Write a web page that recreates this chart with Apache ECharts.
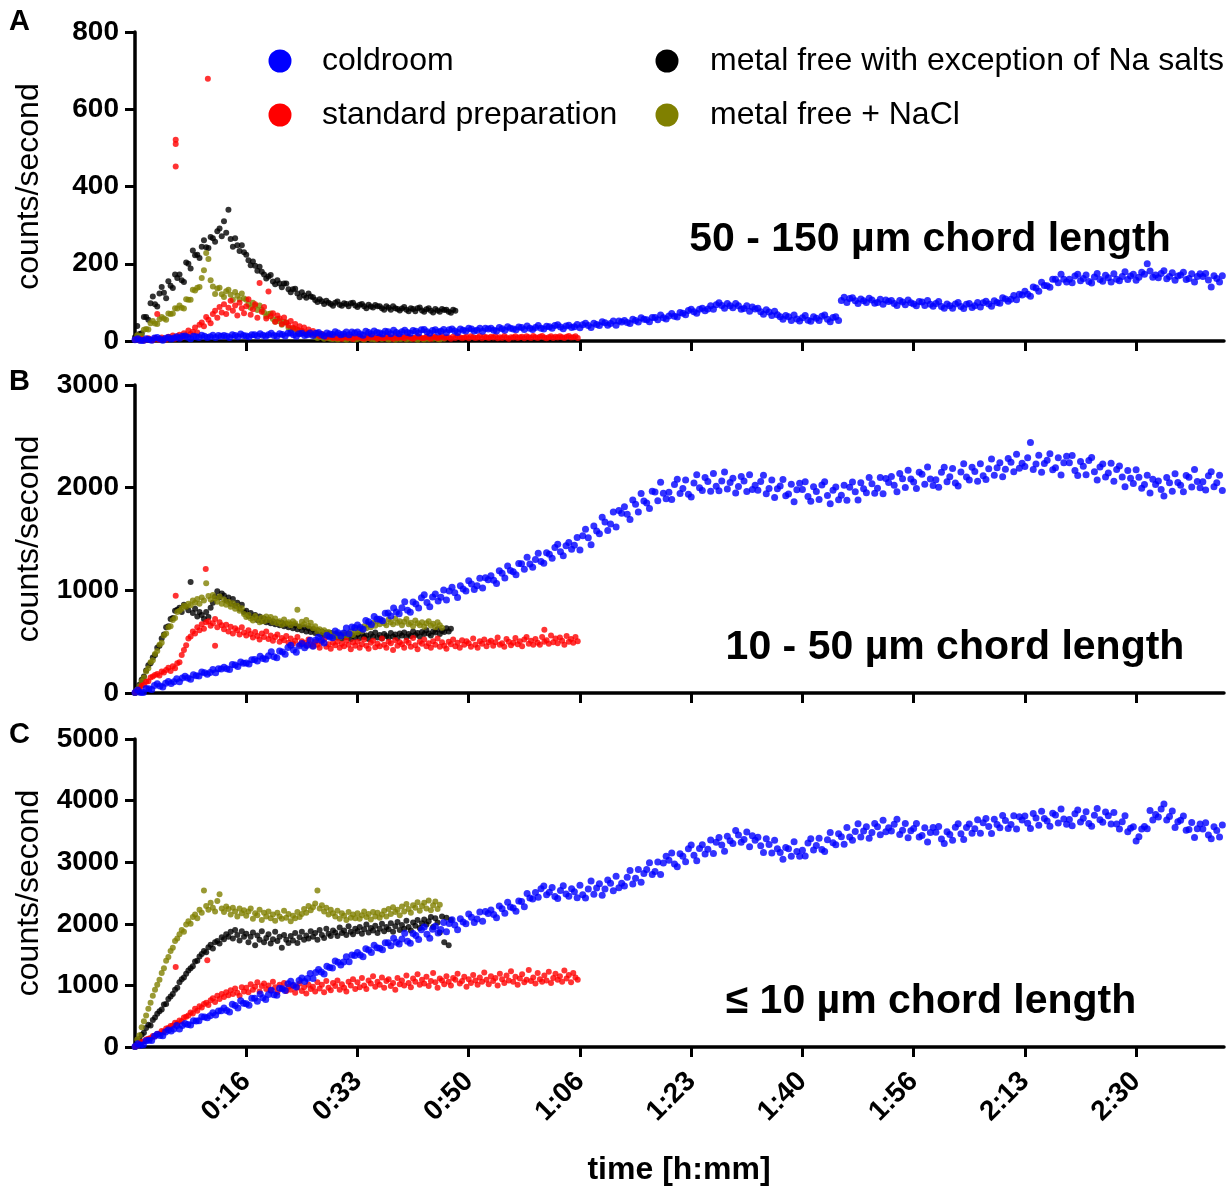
<!DOCTYPE html>
<html>
<head>
<meta charset="utf-8">
<script src="https://cdn.jsdelivr.net/npm/echarts@6/dist/echarts.min.js"></script>
<style>
html,body{margin:0;padding:0;background:#ffffff;}
#chart{width:1229px;height:1186px;}
</style>
</head>
<body>
<div id="chart"></div>
<script>
// ---------------- DATA ----------------
// sampling interval of each recording, seconds
const STEP_COLDROOM = 25;
const STEP_OTHER = 20;

// x-axis ticks (seconds) and their labels (h:mm)
const X_TICKS = [1000, 2000, 3000, 4000, 5000, 6000, 7000, 8000, 9000];
const X_TICK_LABELS = ['0:16', '0:33', '0:50', '1:06', '1:23', '1:40', '1:56', '2:13', '2:30'];

// ---- Panel A : 50 - 150 µm chord length ----
const COLDROOM_A = [
  3,6,1,1,6,4,2,8,9,5,2,7,9,5,8,11,
  7,12,13,10,6,12,11,9,15,12,9,11,15,9,14,12,
  14,12,9,16,14,11,18,14,13,11,16,16,13,19,15,12,
  16,20,14,12,19,17,13,20,21,16,12,19,20,14,16,21,
  14,20,22,17,13,21,18,17,24,21,16,18,23,16,23,21,
  23,18,15,25,22,18,26,22,21,18,25,24,19,28,22,19,
  24,28,22,20,27,25,21,29,30,24,20,27,29,23,25,30,
  22,29,31,26,22,31,28,26,33,31,26,28,33,25,33,31,
  33,28,26,35,32,28,37,33,31,29,36,35,30,39,33,30,
  35,40,33,31,38,37,33,40,42,36,32,39,41,35,37,43,
  34,42,46,40,35,46,43,40,50,47,41,45,52,41,52,49,
  53,48,45,56,53,49,60,56,55,50,61,61,55,67,60,57,
  65,71,64,62,74,72,68,79,82,76,72,82,85,78,83,91,
  82,94,99,92,85,97,91,86,97,91,82,84,91,77,88,83,
  85,76,69,81,75,66,77,68,63,56,66,63,53,67,57,52,
  60,66,54,51,63,59,53,64,67,56,50,61,63,53,105,113,
  100,110,112,104,97,109,104,100,111,106,98,100,108,95,106,102,
  105,97,92,105,101,94,106,99,96,91,102,101,92,105,95,90,
  97,102,89,85,96,91,85,96,100,89,84,95,97,87,91,100,
  88,99,103,96,90,104,100,98,112,109,103,108,118,107,121,119,
  129,121,116,140,137,129,152,144,143,139,160,160,151,173,160,153,
  160,151,168,173,156,162,171,154,150,166,175,159,155,170,164,153,
  174,160,156,167,179,159,168,173,157,165,178,173,200,181,165,171,
  164,175,182,161,167,177,157,168,171,178,159,162,174,153,167,174,
  167,175,158,140,169,162,153,169
];
const STANDARD_A = [
  3,6,2,5,1,4,7,3,2,8,
  5,3,9,6,4,11,8,14,6,12,
  16,9,20,14,27,18,24,35,22,42,
  48,38,62,55,46,70,78,60,88,74,
  95,70,86,104,78,92,66,99,85,72,
  90,108,68,82,95,60,150,76,88,58,
  128,64,72,50,66,58,44,61,48,40,
  52,34,44,30,38,26,35,22,30,19,
  26,16,21,12,18,14,9,15,11,8,
  12,7,10,6,13,9,8,11,5,10,
  9,12,7,6,11,8,13,9,10,6,
  11,8,7,12,9,10,6,13,8,9,
  10,7,12,11,8,6,9,12,10,7,
  8,11,9,6,12,10,7,9,13,8,
  10,9,6,11,8,12,10,7,9,11,
  7,12,10,8,9,13,7,11,10,8,
  11,9,12,7,10,8,13,9,6,10,
  9,12,8,10,11,7,12,10,8,13,
  10,8,11,13,9,7,10,12,8,11,
  9,12,10,8,11,13,9,10,12,8
];
const STANDARD_A_OUTLIERS = [[366, 521], [366, 510], [366, 452], [655, 679], [200, 70]];
const METALFREE_NA_A = [
  10,39,18,20,62,62,55,98,115,95,
  89,123,140,125,111,155,143,137,172,163,
  172,157,153,203,200,188,234,222,223,215,
  244,261,243,241,269,266,257,284,291,271,
  310,280,340,264,244,266,248,233,248,230,
  223,209,196,206,195,182,192,179,172,162,
  167,171,154,147,157,149,139,149,149,134,
  126,134,135,123,113,126,118,112,123,115,
  113,106,101,108,103,96,104,99,96,91,
  99,102,94,91,98,96,90,98,99,92,
  88,94,96,90,85,94,89,87,93,90,
  90,85,81,90,86,81,90,85,83,79,
  84,88,81,77,85,83,77,85,87,79,
  76,82,85,78,74,83,79,76,83,80,
  81,76,73,81,78
];
const METALFREE_NACL_A = [
  4,15,11,14,29,31,30,46,52,45,
  44,56,62,58,55,71,70,71,85,84,
  92,86,84,108,107,107,133,131,138,140,
  163,183,228,212,157,141,122,136,138,121,
  114,129,133,120,107,127,117,108,123,110,
  107,95,86,99,91,80,92,81,74,64,
  70,71,57,50,57,51,42,49,48,34,
  29,32,32,25,19,26,21,17,22,17,
  16,11,8,12,10,6,11,7,6,5,
  8,4,6,9,5,3,7,6,9,4,
  5,8,6,3,7,9,5,6,4,8,
  7,5,9,6,4,6,8,3,7,5,
  6,9,4,7,5,8,6,3,7,6,
  4,7,5,8,6,9,5,4,7,6
];

// ---- Panel B : 10 - 50 µm chord length ----
const COLDROOM_B = [
  5,30,6,4,44,42,33,74,89,67,58,96,111,92,110,140,
  110,145,162,147,134,178,169,166,205,198,182,199,229,198,237,234,
  250,237,230,278,272,259,303,290,291,283,325,327,312,357,337,328,
  363,402,353,343,409,400,377,444,465,420,397,459,481,440,466,515,
  456,516,543,513,486,563,545,537,604,588,556,584,634,576,643,635,
  662,637,622,705,693,668,746,721,719,703,777,779,750,828,790,773,
  830,888,806,786,886,867,827,927,956,881,841,934,964,895,932,1004,
  907,993,1031,977,931,1045,1012,994,1094,1062,1008,1045,1118,1022,1123,1104,
  1143,1098,1067,1190,1166,1121,1237,1192,1182,1151,1261,1258,1206,1322,1256,1225,
  1300,1361,1281,1265,1367,1351,1313,1416,1448,1376,1338,1434,1466,1401,1440,1515,
  1393,1532,1594,1513,1443,1626,1578,1552,1713,1665,1584,1646,1763,1616,1777,1751,
  1815,1741,1689,1879,1838,1764,1943,1869,1850,1798,1966,1958,1873,2052,1945,1893,
  1956,1884,2032,2081,1943,1992,2074,1936,1908,2045,2127,2000,1972,2098,2059,1965,
  2137,2014,1969,2066,2152,1986,2050,2092,1948,2012,2109,2064,1963,2126,1982,2024,
  1975,2059,2120,1940,1991,2074,1905,1989,2017,2079,1921,1938,2033,1864,1980,2042,
  1982,2057,1913,1867,2008,1963,1884,2025,2057,1923,1844,1975,2006,1883,1926,2023,
  1878,2005,2054,1961,1879,2049,1989,1951,2099,2039,1946,1995,2100,1941,2089,2051,
  2108,2023,1960,2139,2087,2002,2170,2085,2055,1992,2149,2130,2034,2202,2084,2021,
  2078,2004,2151,2198,2058,2106,2186,2046,2017,2152,2232,2104,2074,2198,2158,2062,
  2232,2117,2080,2185,2279,2121,2193,2243,2107,2179,2284,2247,2154,2325,2189,2239,
  2205,2291,2440,2177,2230,2316,2149,2235,2266,2330,2174,2194,2291,2124,2243,2307,
  2242,2314,2167,2118,2256,2208,2126,2264,2293,2156,2074,2202,2230,2104,2144,2238,
  2063,2176,2212,2105,2009,2166,2092,2040,2175,2101,1994,2030,2121,1948,2083,2031,
  2065,1981,1920,2100,2049,1966,2135,2051,2023,1961,2119,2102,2007,2176,2060,1998,
  2058,1977,2116,2156,2008,2048,2121,1973
];
const STANDARD_B = [
  5,25,40,70,80,110,115,150,160,175,
  185,170,210,200,225,245,215,260,240,290,
  300,370,420,465,530,550,600,580,640,610,
  670,625,690,700,655,680,720,640,690,660,
  620,665,600,645,580,630,610,570,640,590,
  560,610,575,540,595,555,520,580,545,600,
  525,560,510,545,570,500,535,515,555,490,
  530,480,510,545,470,505,490,460,520,475,
  455,500,470,440,495,520,450,475,430,490,
  465,500,440,480,455,510,470,425,495,460,
  500,440,475,520,460,430,490,510,445,480,
  455,530,470,440,500,485,420,515,460,495,
  475,440,510,490,450,535,465,425,500,480,
  520,455,485,440,505,470,530,450,495,460,
  430,500,475,520,455,490,440,515,470,505,
  485,450,530,470,440,505,480,520,455,495,
  510,460,495,540,470,485,450,525,500,465,
  490,535,475,505,455,520,545,480,510,470,
  525,490,470,545,500,515,480,560,495,530,
  485,540,510,470,555,500,525,490,545,505
];
const STANDARD_B_OUTLIERS = [[366, 948], [636, 1208], [720, 460], [3680, 615]];
const METALFREE_NA_B = [
  0,45,80,130,160,220,270,290,345,370,
  440,460,530,570,640,650,720,730,800,810,
  830,790,860,840,805,1080,780,820,745,790,
  760,720,790,740,830,880,940,990,930,970,
  950,900,930,870,915,850,880,820,860,790,
  800,750,780,735,760,710,745,700,725,690,
  715,680,700,670,690,660,685,650,675,640,
  670,630,660,620,645,610,640,600,630,595,
  620,585,610,575,600,565,590,555,585,550,
  575,540,570,530,565,545,575,525,560,540,
  570,535,580,545,560,525,575,550,590,540,
  565,530,575,555,540,585,550,570,535,580,
  560,590,545,575,555,600,565,585,550,595,
  575,610,580,560,600,590,620,575,605,595,
  630,600,625
];
const METALFREE_NACL_B = [
  0,35,65,115,150,210,240,300,320,380,
  410,470,490,560,580,640,650,710,730,790,
  800,820,850,840,870,855,900,880,915,870,
  930,900,1070,945,910,955,920,890,940,870,
  910,860,890,840,875,820,850,800,825,770,
  740,760,725,705,750,720,690,735,700,745,
  710,740,690,725,680,700,665,715,675,690,
  660,700,680,810,650,695,670,710,655,685,
  630,650,605,620,590,610,570,595,555,580,
  545,570,540,560,585,550,575,600,565,610,
  590,625,605,650,630,665,640,685,655,700,
  670,705,680,660,715,690,670,725,685,700,
  660,695,720,670,685,650,705,680,660,690,
  645,680,700,655,675,640,690,660,635
];

// ---- Panel C : ≤ 10 µm chord length ----
const COLDROOM_C = [
  7,53,29,36,103,111,107,174,205,185,181,245,277,259,294,348,
  293,350,381,367,357,427,424,428,492,488,474,506,555,520,584,587,
  635,594,567,693,673,632,752,711,704,677,790,791,743,862,800,773,
  852,921,850,842,953,945,916,1027,1068,1004,975,1079,1120,1063,1111,1194,
  1113,1211,1260,1219,1184,1310,1289,1282,1395,1374,1332,1381,1465,1382,1494,1487,
  1535,1494,1467,1594,1574,1533,1652,1611,1605,1578,1691,1692,1644,1764,1702,1674,
  1755,1845,1716,1685,1841,1811,1747,1903,1950,1831,1767,1913,1959,1851,1909,2021,
  1871,2006,2064,1979,1905,2084,2031,2001,2158,2106,2021,2079,2192,2041,2198,2168,
  2225,2150,2098,2287,2245,2171,2349,2274,2255,2202,2369,2361,2275,2490,2419,2403,
  2508,2430,2571,2614,2470,2512,2588,2444,2409,2540,2616,2482,2448,2568,2522,2422,
  2625,2470,2420,2565,2695,2480,2580,2650,2465,2565,2710,2660,2535,2770,2585,2657,
  2615,2755,2865,2645,2740,2880,2675,2815,2880,2990,2800,2850,3005,2800,2985,3095,
  3030,3151,2972,2928,3139,3095,3006,3217,3278,3114,3025,3221,3282,3133,3209,3360,
  3140,3322,3399,3281,3178,3420,3347,3304,3516,3443,3325,3370,3490,3250,3430,3355,
  3405,3267,3159,3381,3288,3150,3357,3219,3156,3048,3240,3220,3095,3330,3175,3095,
  3195,3102,3310,3382,3199,3272,3389,3206,3174,3366,3483,3316,3283,3460,3413,3290,
  3565,3408,3355,3498,3626,3408,3506,3574,3387,3484,3627,3575,3447,3680,3493,3560,
  3505,3617,3699,3451,3518,3630,3397,3509,3546,3628,3410,3432,3559,3326,3483,3565,
  3485,3580,3375,3305,3495,3449,3358,3567,3626,3460,3369,3563,3622,3471,3545,3690,
  3470,3641,3708,3579,3465,3696,3613,3559,3760,3677,3548,3614,3755,3537,3738,3685,
  3750,3633,3546,3789,3717,3600,3828,3711,3669,3582,3795,3768,3636,3864,3702,3615,
  3695,3591,3787,3848,3654,3715,3821,3627,3583,3764,3870,3691,3647,3813,3754,3620,
  3805,3620,3540,3655,3755,3495,3550,3575,3345,3415,3540,3580,3545,3840,3685,3775,
  3735,3865,3945,3685,3740,3830,3565,3655,3680,3750,3520,3530,3645,3400,3545,3620,
  3540,3640,3440,3380,3575,3515,3410,3605
];
const STANDARD_C = [
  10,25,55,80,90,120,135,145,180,175,
  210,220,260,250,300,310,340,350,395,380,
  430,420,480,490,510,560,545,620,590,660,
  640,700,720,680,760,790,730,830,780,860,
  810,890,840,920,860,950,880,830,970,900,
  960,890,1020,930,980,1050,900,990,1030,940,
  1000,920,1060,970,890,1010,950,1040,910,980,
  930,1000,880,960,1030,910,970,870,1010,940,
  980,900,1050,950,1010,890,1070,960,920,1040,
  990,1080,930,1020,960,900,1060,1000,1100,940,
  1050,970,1120,1000,940,1080,1030,1150,980,1060,
  1010,1130,960,1070,1100,990,1040,930,1120,1020,
  1080,1000,1160,1040,970,1110,1060,1180,1010,1090,
  1030,1140,990,1070,1200,1050,960,1110,1080,1020,
  1150,1060,1000,1120,1090,1190,1030,1070,1140,980,
  1100,1040,1170,1080,1010,1130,1060,1210,1090,1020,
  1150,1070,1120,1000,1190,1100,1040,1160,1080,1230,
  1060,1140,1010,1110,1180,1050,1090,1250,1070,1130,
  1030,1200,1100,1060,1160,1080,1220,1040,1120,1190,
  1090,1150,1060,1240,1110,1170,1050,1200,1130,1090
];
const STANDARD_C_OUTLIERS = [[366, 1300], [650, 1410]];
const METALFREE_NA_C = [
  0,70,130,200,230,310,360,350,440,480,
  540,580,610,690,700,780,820,860,930,960,
  1050,1100,1130,1190,1240,1280,1310,1390,1400,1470,
  1510,1560,1540,1620,1660,1600,1700,1720,1680,1780,
  1750,1830,1790,1870,1760,1900,1820,1730,1880,1790,
  1840,1700,1790,1860,1650,1810,1740,1880,1700,1770,
  1830,1680,1750,1870,1720,1790,1610,1820,1740,1690,
  1800,1730,1850,1690,1780,1870,1740,1810,1760,1880,
  1790,1850,1740,1900,1820,1770,1920,1840,1800,1890,
  1860,1800,1940,1850,1890,1820,1960,1870,1830,1920,
  1880,1950,1840,1910,1990,1860,1930,1890,1970,1850,
  1920,2000,1880,1950,1910,2010,1870,1960,2030,1900,
  1980,1920,2050,1950,1890,2020,1970,2060,1930,2010,
  2070,1990,2040,2110,1950,2090,2020,1860,2120,1700,
  2100,1650,2060
];
const METALFREE_NACL_C = [
  0,120,190,320,420,510,620,720,830,930,
  1010,1090,1200,1280,1400,1460,1560,1610,1720,1760,
  1830,1900,1870,1990,2040,2000,2110,2150,2090,2230,
  2180,2540,2290,2230,2340,2260,2200,2370,2480,2250,
  2190,2280,2240,2150,2260,2200,2120,2250,2170,2220,
  2130,2200,2250,2080,2170,2140,2230,2060,2180,2120,
  2200,2090,2150,2050,2180,2120,2080,2210,2100,2160,
  2040,2130,2090,2190,2110,2160,2240,2180,2290,2220,
  2270,2330,2540,2250,2300,2200,2260,2150,2230,2170,
  2120,2210,2080,2170,2130,2060,2190,2100,2150,2090,
  2170,2080,2140,2200,2110,2160,2070,2190,2120,2180,
  2100,2150,2210,2120,2240,2160,2270,2190,2230,2140,
  2280,2200,2320,2240,2180,2300,2260,2350,2210,2290,
  2340,2250,2380,2220,2300,2360,2240,2310
];

// ---------------- LAYOUT / STYLE ----------------
const FONT = "'Liberation Sans', Arial, Helvetica, sans-serif";
const X_MAX = 9790;
const COLORS = { coldroom: '#0000ff', standard: '#ff0000', na: '#000000', nacl: '#808000' };
const NAMES = {
  coldroom: 'coldroom',
  standard: 'standard preparation',
  na: 'metal free with exception of Na salts',
  nacl: 'metal free + NaCl'
};

const PANELS = [
  { letter: 'A', top: 32, height: 309, max: 800, interval: 200,
    coldroom: COLDROOM_A, standard: STANDARD_A, standardExtra: STANDARD_A_OUTLIERS,
    na: METALFREE_NA_A, nacl: METALFREE_NACL_A,
    title: '50 - 150 µm chord length', titleX: 930, titleY: 240, letterY: 22 },
  { letter: 'B', top: 385, height: 308, max: 3000, interval: 1000,
    coldroom: COLDROOM_B, standard: STANDARD_B, standardExtra: STANDARD_B_OUTLIERS,
    na: METALFREE_NA_B, nacl: METALFREE_NACL_B,
    title: '10 - 50 µm chord length', titleX: 955, titleY: 648, letterY: 382 },
  { letter: 'C', top: 739, height: 308, max: 5000, interval: 1000,
    coldroom: COLDROOM_C, standard: STANDARD_C, standardExtra: STANDARD_C_OUTLIERS,
    na: METALFREE_NA_C, nacl: METALFREE_NACL_C,
    title: '\u2264 10 µm chord length', titleX: 931, titleY: 1002, letterY: 735 }
];

function toPairs(values, step) {
  return values.map(function (v, i) { return [i * step, v]; });
}

const grid = [], xAxis = [], yAxis = [], series = [], graphic = [];

PANELS.forEach(function (p, i) {
  grid.push({ left: 135, right: 5, top: p.top, height: p.height, containLabel: false, outerBoundsMode: 'none' });
  xAxis.push({
    gridIndex: i, type: 'value', min: 0, max: X_MAX, interval: 1000,
    axisLine: { show: true, onZero: false, lineStyle: { color: '#000', width: 3.5 } },
    axisTick: { show: true, customValues: X_TICKS, length: 10, lineStyle: { color: '#000', width: 3 } },
    axisLabel: {
      show: i === 2, customValues: X_TICKS, rotate: 45, margin: 30,
      color: '#000', fontFamily: FONT, fontWeight: 'bold', fontSize: 28,
      formatter: function (v) { const k = X_TICKS.indexOf(v); return k >= 0 ? X_TICK_LABELS[k] : ''; }
    },
    splitLine: { show: false }
  });
  yAxis.push({
    gridIndex: i, type: 'value', min: 0, max: p.max, interval: p.interval,
    axisLine: { show: true, lineStyle: { color: '#000', width: 3.5 } },
    axisTick: { show: true, length: 10, lineStyle: { color: '#000', width: 3 } },
    axisLabel: { color: '#000', fontFamily: FONT, fontWeight: 'bold', fontSize: 28, margin: 16,
      formatter: function (v) { return String(v); } },
    splitLine: { show: false },
    name: 'counts/second', nameLocation: 'middle', nameGap: 90,
    nameTextStyle: { color: '#000', fontFamily: FONT, fontSize: 32, fontWeight: 'normal' }
  });
  const common = { type: 'scatter', xAxisIndex: i, yAxisIndex: i, symbol: 'circle', symbolSize: 6, silent: true, animation: false };
  series.push(Object.assign({}, common, { name: NAMES.na, itemStyle: { color: COLORS.na }, data: toPairs(p.na, STEP_OTHER) }));
  series.push(Object.assign({}, common, { name: NAMES.nacl, itemStyle: { color: COLORS.nacl }, data: toPairs(p.nacl, STEP_OTHER) }));
  series.push(Object.assign({}, common, { name: NAMES.standard, itemStyle: { color: COLORS.standard }, data: toPairs(p.standard, STEP_OTHER).concat(p.standardExtra) }));
  series.push(Object.assign({}, common, { name: NAMES.coldroom, symbolSize: 7, itemStyle: { color: COLORS.coldroom }, data: toPairs(p.coldroom, STEP_COLDROOM) }));

  graphic.push({ type: 'text', x: 9, y: p.letterY, style: { text: p.letter, font: 'bold 29px ' + FONT, fill: '#000', textAlign: 'left', textVerticalAlign: 'middle' } });
  graphic.push({ type: 'text', x: p.titleX, y: p.titleY, style: { text: p.title, font: 'bold 41px ' + FONT, fill: '#000', textAlign: 'center', textVerticalAlign: 'middle' } });
});

// legend (drawn as graphic so that its placement matches the figure)
const LEGEND_ITEMS = [
  { key: 'coldroom', cx: 280, cy: 61, tx: 322 },
  { key: 'standard', cx: 280, cy: 115, tx: 322 },
  { key: 'na', cx: 667, cy: 61, tx: 710 },
  { key: 'nacl', cx: 667, cy: 115, tx: 710 }
];
LEGEND_ITEMS.forEach(function (it) {
  graphic.push({ type: 'circle', shape: { cx: it.cx, cy: it.cy, r: 11.5 }, style: { fill: COLORS[it.key] } });
  graphic.push({ type: 'text', x: it.tx, y: it.cy, style: { text: NAMES[it.key], font: '32px ' + FONT, fill: '#000', textAlign: 'left', textVerticalAlign: 'middle' } });
});
graphic.push({ type: 'text', x: 679, y: 1170, style: { text: 'time [h:mm]', font: 'bold 32px ' + FONT, fill: '#000', textAlign: 'center', textVerticalAlign: 'middle' } });

const chart = echarts.init(document.getElementById('chart'), null, { renderer: 'canvas' });
chart.setOption({
  backgroundColor: '#ffffff',
  animation: false,
  grid: grid,
  xAxis: xAxis,
  yAxis: yAxis,
  series: series,
  graphic: { elements: graphic }
});
</script>
</body>
</html>
